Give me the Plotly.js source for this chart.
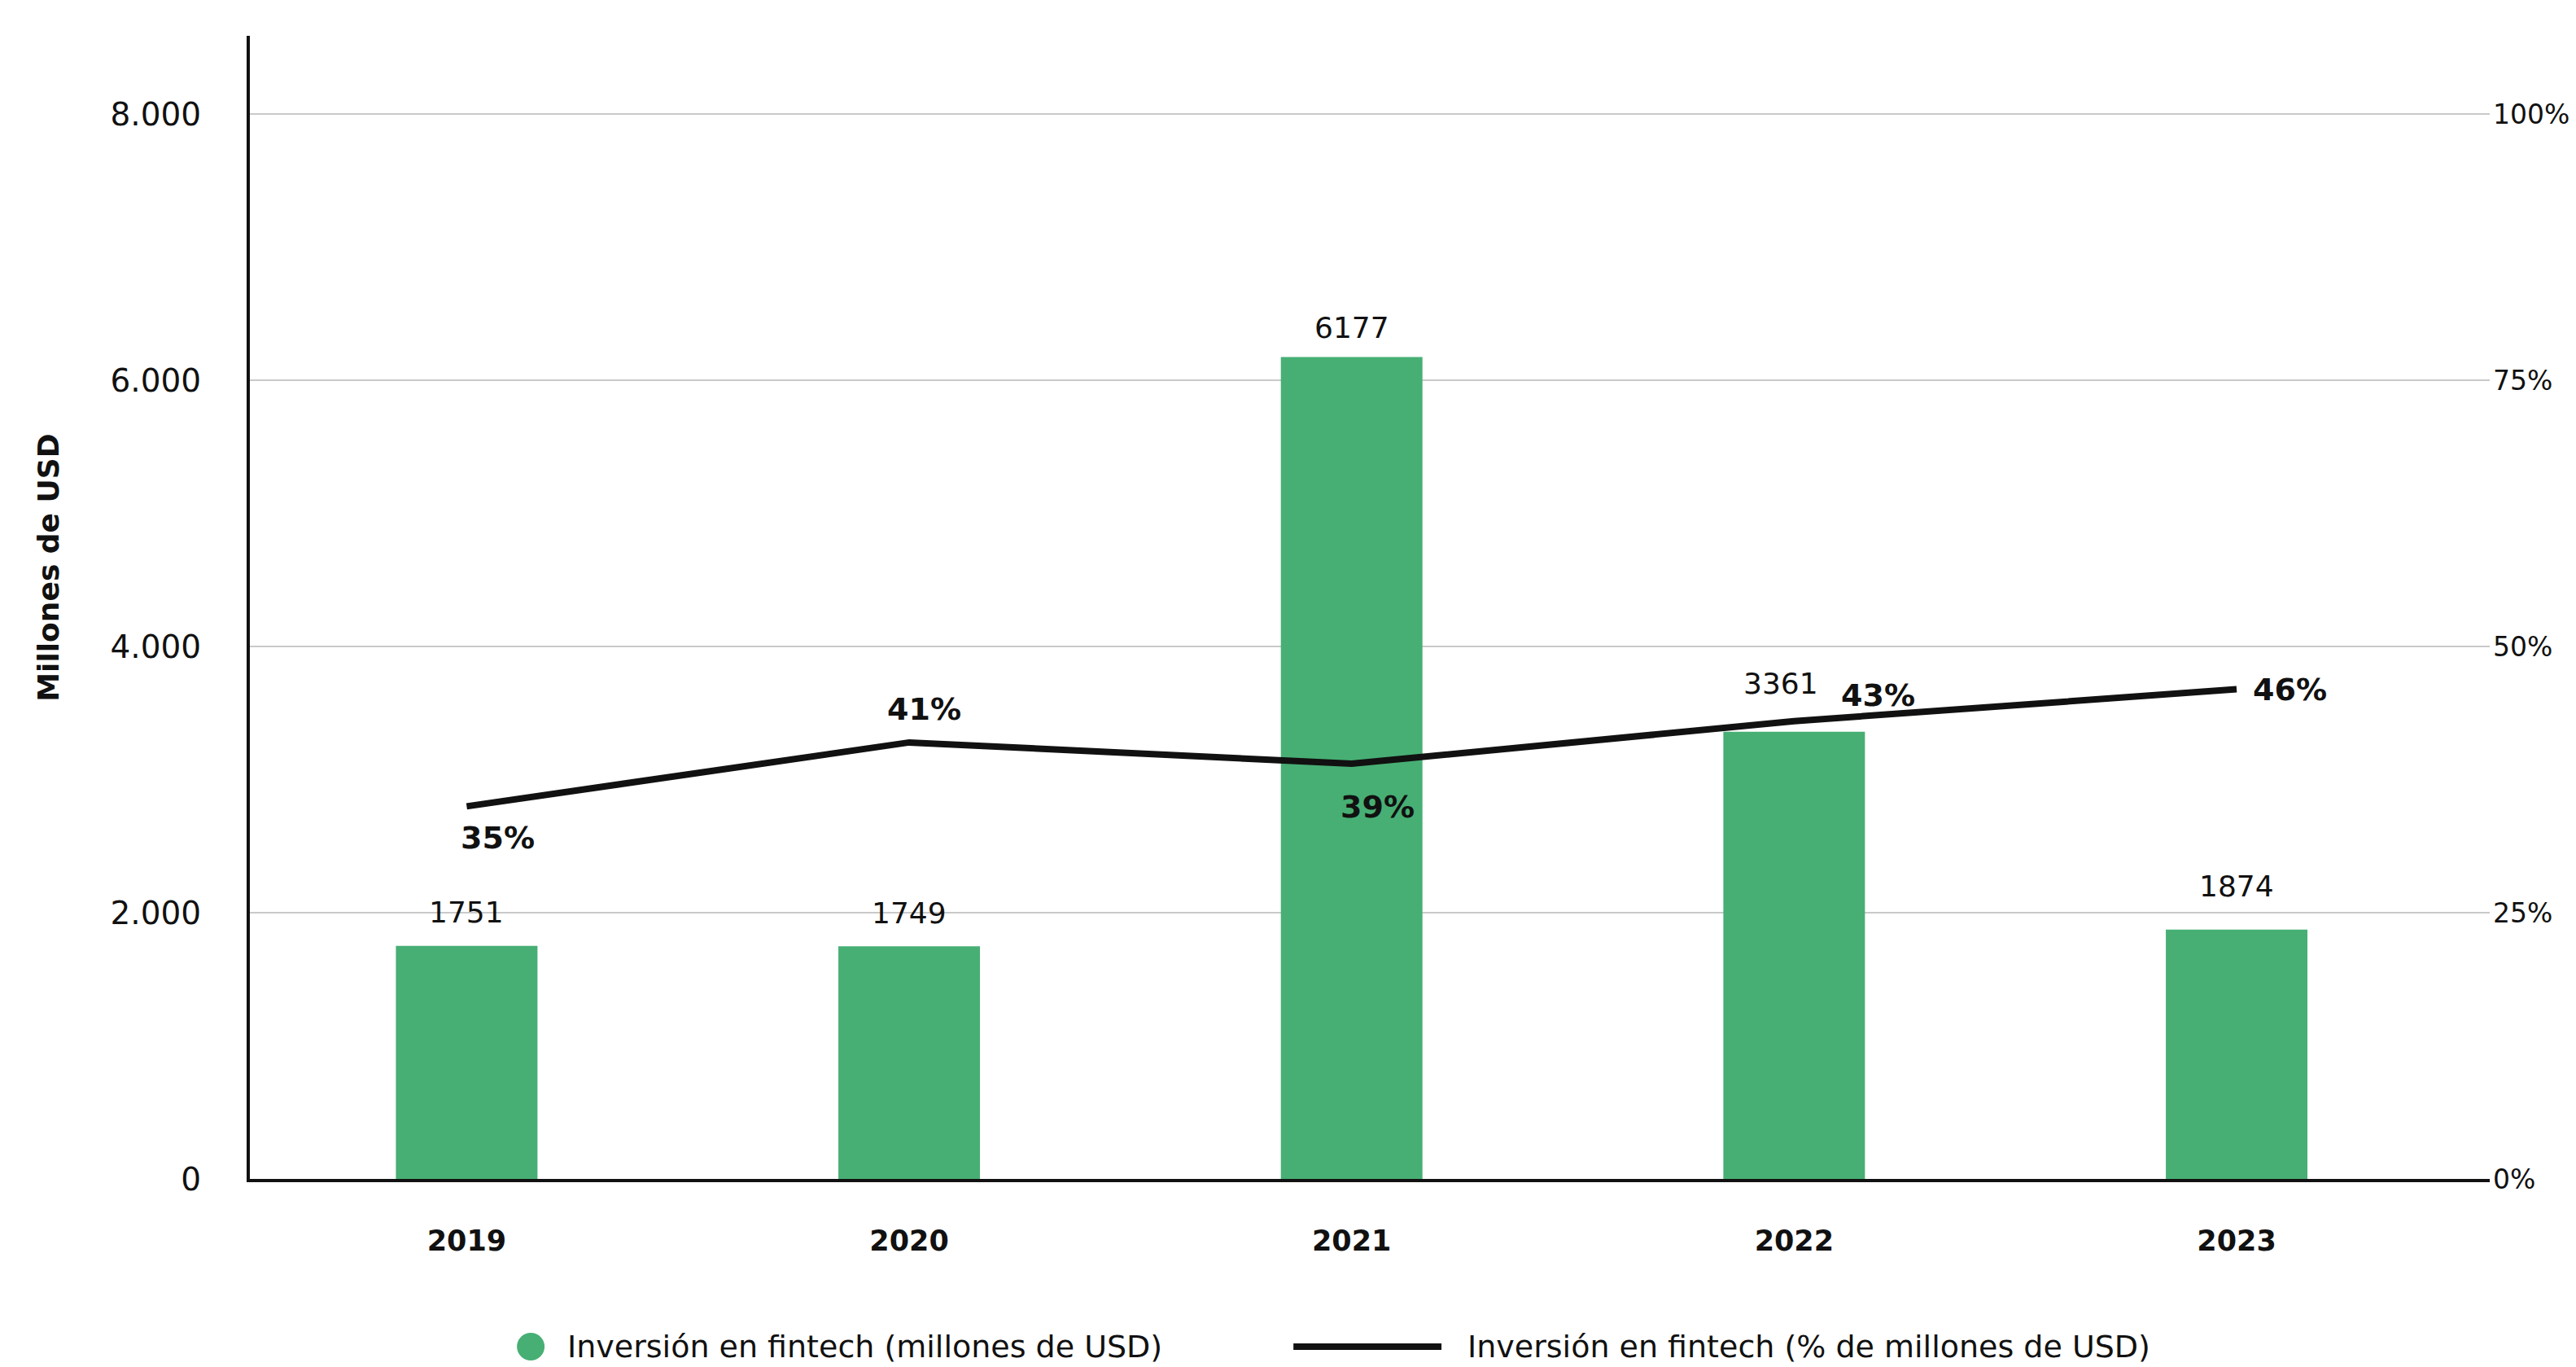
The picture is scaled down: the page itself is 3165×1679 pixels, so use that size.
<!DOCTYPE html>
<html>
<head>
<meta charset="utf-8">
<script src="https://cdn.plot.ly/plotly-3.0.1.min.js"></script>
<style>html,body{margin:0;padding:0;background:#fff;}#chart{width:3165px;height:1679px;}</style>
</head>
<body>
<div id="chart"></div>
<script>
// ---- data ----
const years = ['2019', '2020', '2021', '2022', '2023'];
const investment = [1751, 1749, 6177, 3361, 1874];          // millones de USD
const share = [35, 41, 39, 43, 46];                          // %
const leftTickVals = [0, 2000, 4000, 6000, 8000];
const leftTickText = ['0', '2.000', '4.000', '6.000', '8.000'];
const rightTickVals = [0, 25, 50, 75, 100];
const rightTickText = ['0%', '25%', '50%', '75%', '100%'];
const seriesNames = ['Inversión en fintech (millones de USD)', 'Inversión en fintech (% de millones de USD)'];
const yTitle = 'Millones de USD';

// ---- styling ----
const FONT = '"DejaVu Sans", "Noto Sans", sans-serif';
const GREEN = '#47AF74';
const INK = '#111111';
const barLabelShift = [[0, 41], [0, 41], [0, 36], [-16, 59], [0, 53]];
const pctLabelShift = [[38, -39], [18, 41], [32, -53], [103, 32], [65, 0]];
const yMax = 8590;

const traces = [
  {
    type: 'bar', x: years, y: investment, name: seriesNames[0],
    marker: {color: GREEN}, width: 0.32, showlegend: false, hoverinfo: 'x+y'
  },
  {
    type: 'scatter', mode: 'lines', x: years, y: share, yaxis: 'y2', name: seriesNames[1],
    line: {color: INK, width: 8}, showlegend: false
  }
];

const annotations = [];
years.forEach((yr, i) => {
  // category axes take the category's index as annotation position
  annotations.push({
    x: i, y: investment[i], xref: 'x', yref: 'y', text: String(investment[i]),
    showarrow: false, xanchor: 'center', yanchor: 'middle',
    xshift: barLabelShift[i][0], yshift: barLabelShift[i][1],
    font: {family: FONT, size: 36, color: INK}
  });
  annotations.push({
    x: i, y: share[i], xref: 'x', yref: 'y2', text: share[i] + '%',
    showarrow: false, xanchor: 'center', yanchor: 'middle',
    xshift: pctLabelShift[i][0], yshift: pctLabelShift[i][1],
    font: {family: FONT, size: 38, color: INK, weight: 800}
  });
});

// y axis title
annotations.push({
  x: -0.0898, y: 0.535, xref: 'paper', yref: 'paper', text: yTitle, textangle: -90,
  showarrow: false, xanchor: 'center', yanchor: 'middle',
  font: {family: FONT, size: 36, color: INK, weight: 700}
});

// legend (drawn manually for symbol sizes)
const legY = -0.1467;
annotations.push({
  x: 0.141, y: legY, xref: 'paper', yref: 'paper', text: seriesNames[0],
  showarrow: false, xanchor: 'left', yanchor: 'middle',
  font: {family: FONT, size: 38, color: INK}
});
annotations.push({
  x: 0.5429, y: legY, xref: 'paper', yref: 'paper', text: seriesNames[1],
  showarrow: false, xanchor: 'left', yanchor: 'middle',
  font: {family: FONT, size: 38, color: INK}
});

const shapes = [
  {
    type: 'circle', xref: 'paper', yref: 'paper', xsizemode: 'pixel', ysizemode: 'pixel',
    xanchor: 0.1254, yanchor: legY, x0: -17, x1: 17, y0: -17, y1: 17,
    fillcolor: GREEN, line: {width: 0}
  },
  {
    type: 'line', xref: 'paper', yref: 'paper', x0: 0.4659, x1: 0.532, y0: legY, y1: legY,
    line: {color: INK, width: 8}
  }
];

const layout = {
  width: 3165, height: 1679,
  margin: {l: 307, r: 106, t: 44, b: 231, pad: 0},
  paper_bgcolor: '#ffffff', plot_bgcolor: '#ffffff',
  font: {family: FONT, color: INK},
  showlegend: false,
  xaxis: {
    type: 'category', range: [-0.49, 4.572],
    showline: true, linecolor: INK, linewidth: 4,
    showgrid: false, zeroline: false, ticks: '',
    ticklabelstandoff: 42,
    tickfont: {family: FONT, size: 35, color: INK, weight: 800}
  },
  yaxis: {
    range: [0, yMax], tickvals: leftTickVals, ticktext: leftTickText,
    showline: true, linecolor: INK, linewidth: 4,
    showgrid: true, gridcolor: '#c9c9c9', gridwidth: 2,
    zeroline: false, ticks: '', ticklabelstandoff: 48,
    tickfont: {family: FONT, size: 39, color: INK}
  },
  yaxis2: {
    overlaying: 'y', side: 'right', range: [0, yMax / 8000 * 100],
    tickvals: rightTickVals, ticktext: rightTickText,
    showline: false, showgrid: false, zeroline: false, ticks: '',
    ticklabelstandoff: 3,
    tickfont: {family: FONT, size: 33, color: INK}
  },
  annotations: annotations,
  shapes: shapes
};

Plotly.newPlot('chart', traces, layout, {displayModeBar: false, staticPlot: true});
</script>
</body>
</html>
